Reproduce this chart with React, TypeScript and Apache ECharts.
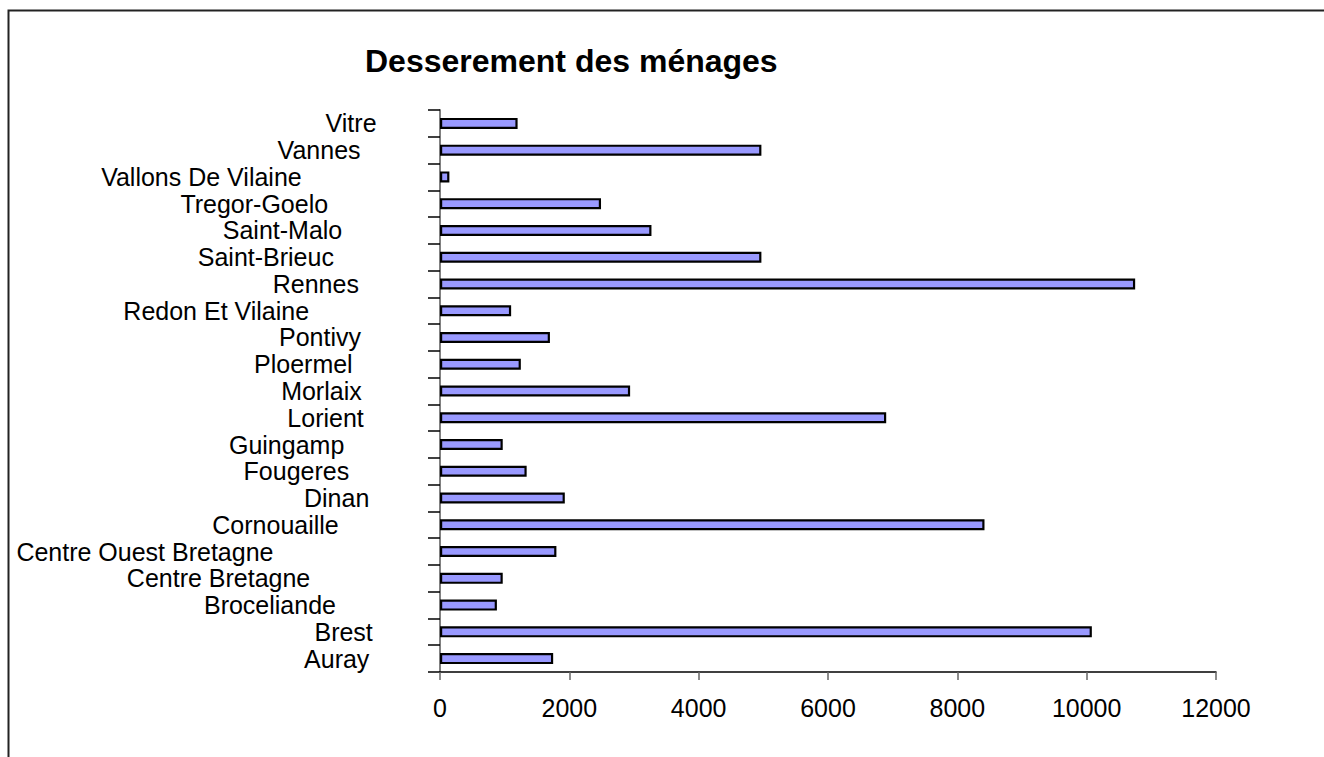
import React, { useEffect, useRef } from "react";
import * as echarts from "echarts";

const TITLE = "Desserement des ménages";

const categories = [
  "Auray",
  "Brest",
  "Broceliande",
  "Centre Bretagne",
  "Centre Ouest Bretagne",
  "Cornouaille",
  "Dinan",
  "Fougeres",
  "Guingamp",
  "Lorient",
  "Morlaix",
  "Ploermel",
  "Pontivy",
  "Redon Et Vilaine",
  "Rennes",
  "Saint-Brieuc",
  "Saint-Malo",
  "Tregor-Goelo",
  "Vallons De Vilaine",
  "Vannes",
  "Vitre",
];

const values = [
  1750, 10080, 880, 970, 1800, 8420, 1930, 1340, 970, 6900, 2940, 1250, 1700,
  1100, 10750, 4970, 3270, 2490, 145, 4970, 1200,
];

const xTicks = [0, 2000, 4000, 6000, 8000, 10000, 12000];

const FONT = '"Liberation Sans", Arial, sans-serif';
const LABEL_SIZE = 25;

export default function App() {
  const ref = useRef<HTMLDivElement>(null);

  useEffect(() => {
    if (!ref.current) return;
    const chart = echarts.init(ref.current, null, { renderer: "svg" });

    // measure label widths to reproduce the reference's label placement
    const canvas = document.createElement("canvas");
    const ctx = canvas.getContext("2d")!;
    ctx.font = `${LABEL_SIZE}px "Liberation Sans"`;
    const rich: any = {
      t: { fontSize: LABEL_SIZE, fontFamily: FONT, color: "#000" },
    };
    categories.forEach((c, i) => {
      rich["p" + i] = { width: ctx.measureText(c).width * 0.5, height: 1 };
    });

    chart.setOption({
      animation: false,
      backgroundColor: "#fff",
      title: {
        text: TITLE,
        left: 360,
        top: 40,
        textStyle: {
          fontSize: 32,
          fontWeight: "bold",
          fontFamily: FONT,
          color: "#000",
        },
      },
      graphic: [
        {
          type: "rect",
          shape: { x: 8.5, y: 10.5, width: 1400, height: 800 },
          style: { fill: "none", stroke: "#222", lineWidth: 2 },
          silent: true,
        },
      ],
      grid: {
        left: 440,
        right: 108,
        top: 110,
        bottom: 85,
        containLabel: false,
        outerBoundsMode: "none",
      },
      xAxis: {
        type: "value",
        min: xTicks[0],
        max: xTicks[xTicks.length - 1],
        interval: 2000,
        axisLine: { show: true, lineStyle: { color: "#000", width: 1.5 } },
        axisTick: {
          show: true,
          length: 8,
          lineStyle: { color: "#666", width: 1.5 },
        },
        splitLine: { show: false },
        axisLabel: {
          margin: 23,
          fontSize: LABEL_SIZE,
          fontFamily: FONT,
          color: "#000",
          formatter: (v: number) => String(v),
        },
      },
      yAxis: {
        type: "category",
        data: categories,
        axisLine: { show: true, lineStyle: { color: "#808080", width: 2 } },
        axisTick: {
          show: true,
          length: 12,
          alignWithLabel: false,
          lineStyle: { color: "#000", width: 1.5 },
        },
        splitLine: { show: false },
        axisLabel: {
          margin: 38,
          interval: 0,
          formatter: (v: string, i: number) => `{t|${v}}{p${i}|}`,
          rich,
        },
      },
      series: [
        {
          type: "bar",
          data: values,
          barWidth: 11,
          itemStyle: {
            color: "#9999FF",
            borderColor: "#000",
            borderWidth: 2.2,
          },
        },
      ],
    });

    return () => chart.dispose();
  }, []);

  return (
    <div
      ref={ref}
      style={{
        position: "fixed",
        left: 0,
        top: 0,
        width: 1324,
        height: 757,
      }}
    />
  );
}
